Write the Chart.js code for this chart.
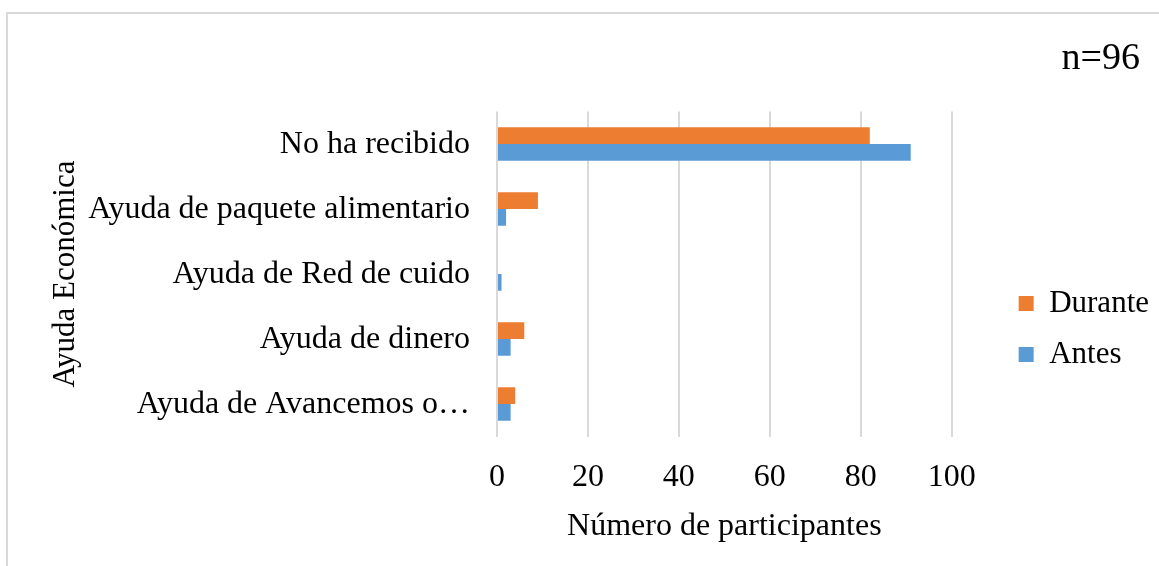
<!DOCTYPE html>
<html>
<head>
<meta charset="utf-8">
<script src="https://cdn.jsdelivr.net/npm/chart.js@4.4.0/dist/chart.umd.min.js"></script>
<style>
  html, body { margin: 0; padding: 0; background: #fff; }
  #wrap { position: relative; width: 1159px; height: 566px; overflow: hidden; }
  #frame { position: absolute; left: 6px; top: 12px; width: 1200px; height: 600px;
           border-left: 2px solid #d9d9d9; border-top: 2px solid #d9d9d9; }
  canvas { position: absolute; left: 0; top: 0; }
</style>
</head>
<body>
<div id="wrap">
  <div id="frame"></div>
  <canvas id="chart" width="1159" height="566"></canvas>
</div>
<script>
// data
const categories = ['No ha recibido', 'Ayuda de paquete alimentario', 'Ayuda de Red de cuido', 'Ayuda de dinero', 'Ayuda de Avancemos o…']
const durante = [82, 9, 0, 6, 4]
const antes = [91, 2, 1, 3, 3]
const xTicks = [0, 20, 40, 60, 80, 100]
const sampleLabel = 'n=96'

const FONT = "'Liberation Serif', 'Times New Roman', serif"
const Y_AXIS_W = 477 // category labels are wide, don't let chart.js squeeze them
const GAP_W = 28     // extra room between plot and legend
const LEG_DX = 47    // push legend items right into that room
const LEG_DY = 57

// Excel keeps a gap between plot and legend, Chart.js doesn't
const legendGap = {
  id: 'legendGap',
  afterInit(chart) {
    const lg = chart.legend; if (!lg) return
    const fit = lg.fit.bind(lg)
    lg.fit = function () { fit(); this.width += GAP_W }
  },
  afterLayout(chart) {
    const lg = chart.legend; if (!lg) return
    lg.left += LEG_DX; lg.right += LEG_DX
    lg.top += LEG_DY; lg.bottom += LEG_DY
  }
}

const ctx = document.getElementById('chart').getContext('2d')
new Chart(ctx, {
  type: 'bar',
  data: {
    labels: categories,
    datasets: [
      { label: 'Durante', data: durante, backgroundColor: '#ED7D31', categoryPercentage: 0.515, barPercentage: 1 },
      { label: 'Antes', data: antes, backgroundColor: '#5B9BD5', categoryPercentage: 0.515, barPercentage: 1 }
    ]
  },
  options: {
    indexAxis: 'y',
    responsive: false,
    animation: false,
    layout: { padding: { left: 20, right: 19, top: 0, bottom: 22 } },
    scales: {
      x: {
        min: 0, max: 100,
        afterBuildTicks: axis => { axis.ticks = xTicks.map(v => ({ value: v })) },
        ticks: { color: '#000', padding: 22, font: { family: FONT, size: 32 } },
        grid: { color: '#d9d9d9', lineWidth: 2, drawTicks: false },
        border: { display: false },
        title: { display: true, text: 'Número de participantes', color: '#000', font: { family: FONT, size: 32, lineHeight: 1 }, padding: { top: -8, bottom: 1 } }
      },
      y: {
        afterFit: s => { s.width = Y_AXIS_W },
        ticks: { color: '#000', padding: 27, font: { family: FONT, size: 32 } },
        grid: { display: false, drawTicks: false },
        border: { display: false },
        title: { display: true, text: 'Ayuda Económica', color: '#000', font: { family: FONT, size: 31 }, padding: { top: 27, bottom: 4 } }
      }
    },
    plugins: {
      title: { display: true, text: sampleLabel, align: 'end', color: '#000', font: { family: FONT, size: 38, weight: 'normal' }, padding: { top: 36, bottom: 30 } },
      legend: {
        position: 'right', align: 'center',
        labels: { color: '#000', boxWidth: 15, boxHeight: 15, padding: 20, font: { family: FONT, size: 31 } }
      },
      tooltip: { enabled: false }
    }
  },
  plugins: [legendGap]
})
</script>
</body>
</html>
